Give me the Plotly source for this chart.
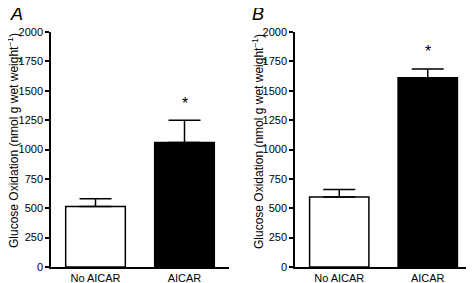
import plotly.graph_objects as go
from plotly.subplots import make_subplots

# data
categories = ["No AICAR", "AICAR"]
panel_a_means = [515, 1060]
panel_a_sem = [65, 190]
panel_b_means = [595, 1610]
panel_b_sem = [65, 75]
bar_fills = ["white", "black"]
y_ticks = [0, 250, 500, 750, 1000, 1250, 1500, 1750, 2000]
star_a = 1390
star_b = 1830

# the page body has an 8px margin, so the figure is drawn 8px smaller
W, H = 466, 275

fig = make_subplots(rows=1, cols=2)

for col, means, sem in [(1, panel_a_means, panel_a_sem), (2, panel_b_means, panel_b_sem)]:
    fig.add_trace(go.Bar(
        x=categories, y=means,
        width=0.67,
        marker=dict(color=bar_fills, line=dict(color="black", width=1.5)),
        error_y=dict(type="data", array=sem, symmetric=False, arrayminus=[0, 0],
                     color="black", thickness=1.5, width=16),
        showlegend=False,
    ), row=1, col=col)

axis_font = dict(family="Liberation Sans, Arial, sans-serif", size=11, color="black")
ytitle = "Glucose Oxidation (nmol g wet weight<sup>−1</sup>)"

fig.update_xaxes(range=[-0.5, 1.5], showline=True, linecolor="black", linewidth=1.5,
                 ticks="", showgrid=False, tickfont=axis_font, automargin=False, zeroline=False)
fig.update_yaxes(range=[0, 2000], tickvals=y_ticks, showline=True, linecolor="black", linewidth=1.5,
                 ticks="outside", ticklen=4, tickwidth=1.5, tickcolor="black",
                 showgrid=False, zeroline=False, tickfont=axis_font, automargin=False)

fig.update_layout(
    width=W, height=H,
    margin=dict(l=0, r=0, t=0, b=0),
    plot_bgcolor="white", paper_bgcolor="white",
    xaxis=dict(domain=[43 / W, 221 / W]),
    xaxis2=dict(domain=[287 / W, 464 / W]),
    yaxis=dict(domain=[16 / H, 251 / H]),
    yaxis2=dict(domain=[16 / H, 251 / H]),
)

# y titles as rotated annotations so they sit where the original has them
title_font = dict(family="Liberation Sans, Arial, sans-serif", size=12, color="black")
for xpix in [5, 250]:
    fig.add_annotation(x=xpix / W, y=1 - 133 / H, xref="paper", yref="paper", text=ytitle,
                       textangle=-90, showarrow=False, xanchor="center", yanchor="middle",
                       font=title_font)

star_font = dict(family="Liberation Sans, Arial, sans-serif", size=16, color="black")
fig.add_annotation(x="AICAR", y=star_a, xref="x", yref="y", text="*", showarrow=False, font=star_font)
fig.add_annotation(x="AICAR", y=star_b, xref="x2", yref="y2", text="*", showarrow=False, font=star_font)

letter_font = dict(family="Liberation Sans, Arial, sans-serif", size=18, color="black")
fig.add_annotation(x=0, y=1.0, xref="paper", yref="paper", text="<i>A</i>", yshift=6,
                   showarrow=False, xanchor="left", yanchor="top", font=letter_font)
fig.add_annotation(x=242 / W, y=1.0, xref="paper", yref="paper", text="<i>B</i>", yshift=6,
                   showarrow=False, xanchor="left", yanchor="top", font=letter_font)

fig.write_html("out.html")
